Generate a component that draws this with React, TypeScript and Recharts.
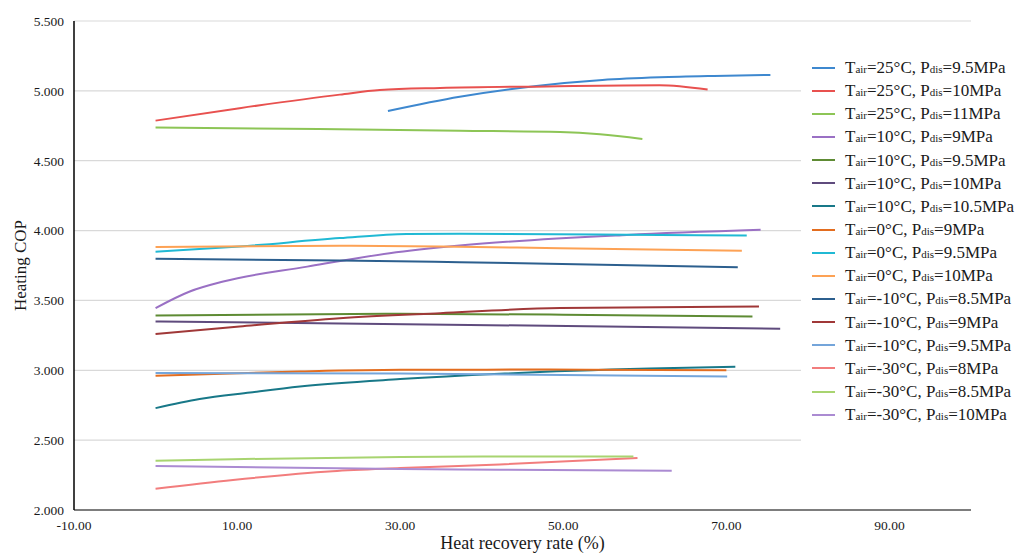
import React from 'react';
import { LineChart, Line, XAxis, YAxis, CartesianGrid, Legend } from 'recharts';

// heat recovery rate (%) / heating COP
const rate25_95 = [28.5, 37.3, 46.7, 54.8, 61.8, 68.5, 75.4];
const cop25_95 = [4.856, 4.958, 5.035, 5.078, 5.097, 5.107, 5.114];
const rate25_10 = [0, 10.3, 22.6, 27.5, 34.9, 48, 61.8, 67.7];
const cop25_10 = [4.787, 4.876, 4.973, 5.006, 5.021, 5.032, 5.04, 5.009];
const rate25_11 = [0, 20, 37.3, 49.6, 54.5, 59.7];
const cop25_11 = [4.737, 4.727, 4.715, 4.706, 4.69, 4.656];

const rate10_9 = [0, 4.2, 8.3, 18.6, 28.7, 37.3, 57.8, 74.2];
const cop10_9 = [3.445, 3.564, 3.635, 3.742, 3.838, 3.893, 3.969, 4.005];
const rate10_95 = [0, 30, 50, 73.2];
const cop10_95 = [3.392, 3.404, 3.398, 3.385];
const rate10_10 = [0, 38.5, 76.6];
const cop10_10 = [3.349, 3.325, 3.297];
const rate10_105 = [0, 5.4, 11.6, 17.7, 30, 42.2, 60.6, 71.1];
const cop10_105 = [2.729, 2.794, 2.841, 2.884, 2.937, 2.975, 3.012, 3.025];

const rate0_9 = [0, 17.7, 30, 48.3, 70];
const cop0_9 = [2.961, 2.991, 3.003, 3.005, 3.0];
const rate0_95 = [0, 10.3, 22.6, 30.8, 37.3, 61.8, 72.5];
const cop0_95 = [3.848, 3.886, 3.946, 3.976, 3.978, 3.969, 3.964];
const rate0_10 = [0, 22.6, 34.9, 49.6, 71.9];
const cop0_10 = [3.883, 3.891, 3.886, 3.874, 3.855];

const rateM10_85 = [0, 22.6, 37.3, 71.4];
const copM10_85 = [3.798, 3.786, 3.774, 3.738];
const rateM10_9 = [0, 10.3, 22.6, 34.9, 49.6, 74];
const copM10_9 = [3.259, 3.313, 3.373, 3.409, 3.445, 3.456];
const rateM10_95 = [0, 30, 70.1];
const copM10_95 = [2.98, 2.977, 2.956];

const rateM30_8 = [0, 9.5, 21.7, 30, 42.2, 59.1];
const copM30_8 = [2.152, 2.215, 2.278, 2.3, 2.326, 2.372];
const rateM30_85 = [0, 9.5, 30, 42.2, 58.6];
const copM30_85 = [2.353, 2.364, 2.379, 2.383, 2.383];
const rateM30_10 = [0, 30, 42.2, 63.3];
const copM30_10 = [2.315, 2.293, 2.288, 2.281];

const airTemps = ['25', '25', '25', '10', '10', '10', '10', '0', '0', '0', '-10', '-10', '-10', '-30', '-30', '-30'];
const dischargePressures = ['9.5', '10', '11', '9', '9.5', '10', '10.5', '9', '9.5', '10', '8.5', '9', '9.5', '8', '8.5', '10'];
const colors = [
  '#3E88CF', '#E8514F', '#8DC556', '#9A70C4', '#5E8B34', '#5F4B7D', '#187888', '#E36D1F',
  '#20B9D4', '#FDA255', '#2C5F8E', '#A03838', '#74A5DA', '#F27D7D', '#A8D470', '#AB8BD2',
];
const rates = [
  rate25_95, rate25_10, rate25_11, rate10_9, rate10_95, rate10_10, rate10_105, rate0_9,
  rate0_95, rate0_10, rateM10_85, rateM10_9, rateM10_95, rateM30_8, rateM30_85, rateM30_10,
];
const cops = [
  cop25_95, cop25_10, cop25_11, cop10_9, cop10_95, cop10_10, cop10_105, cop0_9,
  cop0_95, cop0_10, copM10_85, copM10_9, copM10_95, copM30_8, copM30_85, copM30_10,
];

const xTicks = [-10, 10, 30, 50, 70, 90];
const yTicks = [2, 2.5, 3, 3.5, 4, 4.5, 5, 5.5];

const series = rates.map((r, i) => ({
  key: `s${i}`,
  color: colors[i],
  data: r.map((x, j) => ({ x, y: cops[i][j] })),
}));

const font = '"Liberation Serif", "Times New Roman", serif';

const LegendBox = () => (
  <div style={{ background: '#fff', width: 223, height: 435, paddingTop: 11, boxSizing: 'border-box', fontFamily: font }}>
    {series.map((s, i) => (
      <div key={s.key} style={{ height: 23.15, display: 'flex', alignItems: 'center' }}>
        <div style={{ marginLeft: 11, width: 23, height: 2, flexShrink: 0, background: s.color }} />
        <span style={{ marginLeft: 10, fontSize: 17, color: '#1a1a1a', whiteSpace: 'nowrap', lineHeight: 1, flexShrink: 0 }}>
          T<span style={{ fontSize: 11 }}>air</span>={airTemps[i]}°C, P<span style={{ fontSize: 11 }}>dis</span>={dischargePressures[i]}MPa
        </span>
      </div>
    ))}
  </div>
);

export default function App() {
  return (
    <LineChart width={1016} height={548} margin={{ top: 13, right: 53, bottom: 0, left: 0 }}>
      <CartesianGrid vertical={false} stroke="#d9d9d9" strokeWidth={1.2} />
      <XAxis
        type="number"
        dataKey="x"
        domain={[-10, 100]}
        ticks={xTicks}
        tickFormatter={(v: number) => v.toFixed(2)}
        tickLine={false}
        tickSize={0}
        tickMargin={10}
        height={46}
        axisLine={{ stroke: '#595959', strokeWidth: 1.5 }}
        tick={{ fill: '#1a1a1a', fontSize: 13.5, fontFamily: font }}
        label={{ value: 'Heat recovery rate (%)', position: 'insideBottom', offset: 7, fill: '#1a1a1a', fontSize: 18, fontFamily: font }}
      />
      <YAxis
        type="number"
        domain={[2, 5.5]}
        ticks={yTicks}
        tickFormatter={(v: number) => v.toFixed(3)}
        tickLine={false}
        tickSize={0}
        tickMargin={10}
        width={66}
        axisLine={{ stroke: '#000', strokeWidth: 1.5 }}
        tick={{ fill: '#1a1a1a', fontSize: 13.5, fontFamily: font }}
        label={{ value: 'Heating COP', angle: -90, position: 'insideLeft', offset: 12, fill: '#1a1a1a', fontSize: 17, fontFamily: font, style: { textAnchor: 'middle' } }}
      />
      <Legend
        layout="vertical"
        align="center"
        verticalAlign="middle"
        wrapperStyle={{ left: 793, top: 37, width: 223, height: 435 }}
        content={() => <LegendBox />}
      />
      {series.map((s) => (
        <Line
          key={s.key}
          data={s.data}
          dataKey="y"
          type="monotone"
          stroke={s.color}
          strokeWidth={2}
          dot={false}
          activeDot={false}
          isAnimationActive={false}
        />
      ))}
    </LineChart>
  );
}
